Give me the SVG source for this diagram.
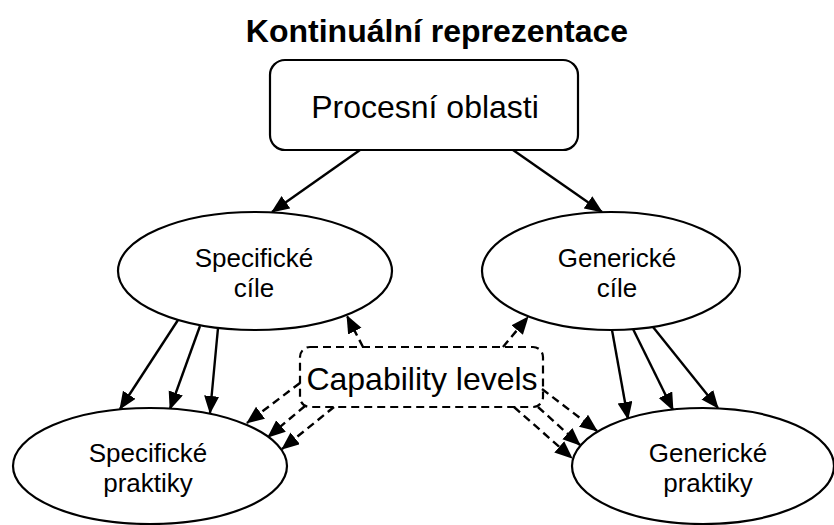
<svg xmlns="http://www.w3.org/2000/svg" width="834" height="525" viewBox="0 0 834 525">
  <defs>
    <marker id="arrow" markerUnits="userSpaceOnUse" markerWidth="19" markerHeight="16" refX="17" refY="7.5" orient="auto" viewBox="0 0 19 16">
      <path d="M0,0 L18,7.5 L0,15 z" fill="#000" stroke="none"/>
    </marker>
    <style>
      .node { fill: #fff; stroke: #000; stroke-width: 2.2; }
      .dash-box { fill: none; stroke: #000; stroke-width: 2.2; stroke-dasharray: 8 5; }
      .lbl { font-family: "Liberation Sans", Arial, sans-serif; fill: #000; text-anchor: middle; }
      .big { font-size: 32px; }
      .mid { font-size: 26px; }
      .title { font-size: 32px; font-weight: bold; }
      .edge { stroke: #000; stroke-width: 2.4; fill: none; marker-end: url(#arrow); }
      .edge.dashed { stroke-dasharray: 8 5; }
    </style>
  </defs>

  <rect width="834" height="525" fill="#fff"/>

  <text class="lbl title" x="437" y="42">Kontinuální reprezentace</text>

  <g id="connectors">
    <!-- Procesní oblasti to goals -->
    <line class="edge" x1="360" y1="150" x2="272" y2="212"/>
    <line class="edge" x1="513" y1="150" x2="602" y2="212"/>
    <!-- Specifické cíle to Specifické praktiky -->
    <line class="edge" x1="178" y1="320" x2="120" y2="409"/>
    <line class="edge" x1="200" y1="326" x2="170" y2="409"/>
    <line class="edge" x1="218" y1="328" x2="210" y2="413"/>
    <!-- Generické cíle to Generické praktiky -->
    <line class="edge" x1="612" y1="330" x2="628" y2="419"/>
    <line class="edge" x1="633" y1="329" x2="673" y2="410"/>
    <line class="edge" x1="653" y1="327" x2="718" y2="408"/>
    <!-- Capability levels to goals -->
    <line class="edge dashed" x1="363" y1="347" x2="347" y2="316"/>
    <line class="edge dashed" x1="503" y1="347" x2="528" y2="317"/>
    <!-- Capability levels to Specifické praktiky -->
    <line class="edge dashed" x1="300" y1="383" x2="247" y2="423"/>
    <line class="edge dashed" x1="305" y1="406" x2="268" y2="437"/>
    <line class="edge dashed" x1="334" y1="407" x2="282" y2="449"/>
    <!-- Capability levels to Generické praktiky -->
    <line class="edge dashed" x1="542" y1="389" x2="597" y2="431"/>
    <line class="edge dashed" x1="538" y1="407" x2="580" y2="445"/>
    <line class="edge dashed" x1="514" y1="407" x2="572" y2="458"/>
  </g>

  <g id="procesni-oblasti">
    <rect class="node" x="270" y="60" width="308" height="90" rx="15" ry="15"/>
    <text class="lbl big" x="425" y="118">Procesní oblasti</text>
  </g>

  <g id="specificke-cile">
    <ellipse class="node" cx="255" cy="271" rx="137" ry="59"/>
    <text class="lbl mid" x="254" y="267">Specifické</text>
    <text class="lbl mid" x="254" y="297">cíle</text>
  </g>

  <g id="genericke-cile">
    <ellipse class="node" cx="611" cy="271" rx="129" ry="59"/>
    <text class="lbl mid" x="617" y="267">Generické</text>
    <text class="lbl mid" x="617" y="297">cíle</text>
  </g>

  <g id="capability-levels">
    <rect class="dash-box" x="300" y="347" width="243" height="60" rx="10" ry="10"/>
    <text class="lbl big" x="422" y="390">Capability levels</text>
  </g>

  <g id="specificke-praktiky">
    <ellipse class="node" cx="150" cy="466" rx="137" ry="58"/>
    <text class="lbl mid" x="148" y="462">Specifické</text>
    <text class="lbl mid" x="148" y="492">praktiky</text>
  </g>

  <g id="genericke-praktiky">
    <ellipse class="node" cx="703" cy="466" rx="131" ry="58"/>
    <text class="lbl mid" x="708" y="462">Generické</text>
    <text class="lbl mid" x="708" y="492">praktiky</text>
  </g>
</svg>
